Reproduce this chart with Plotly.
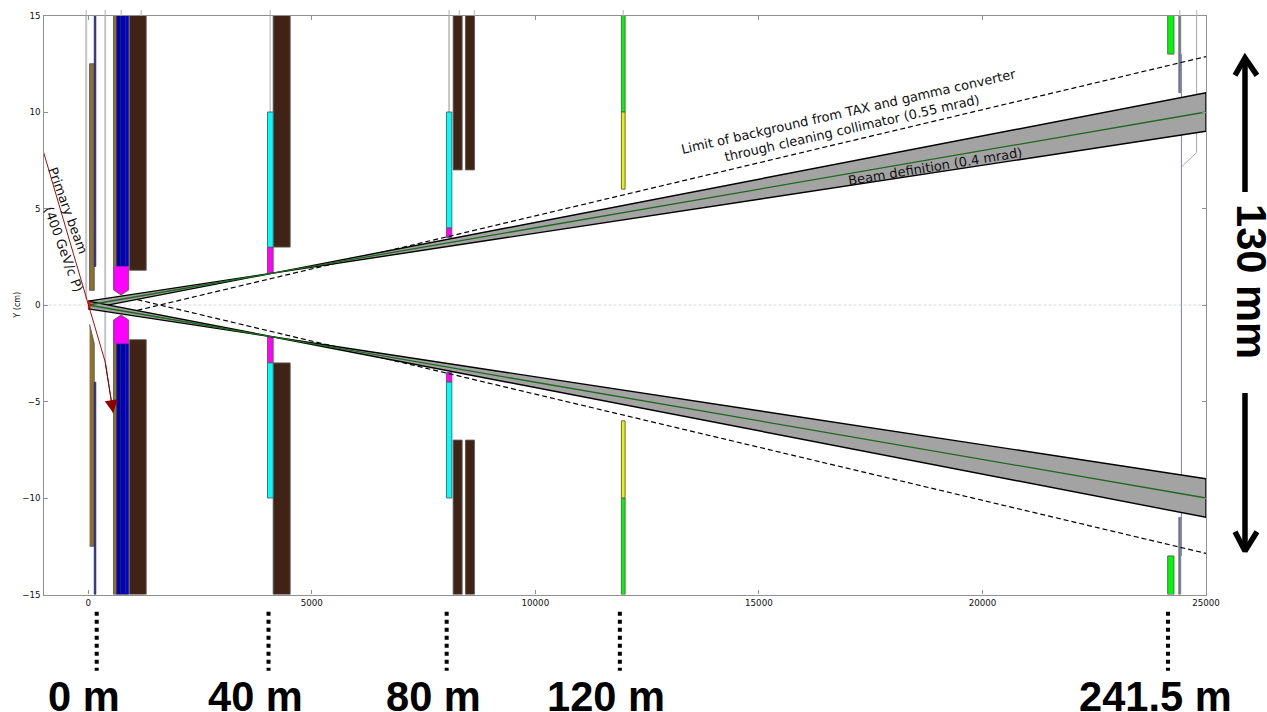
import plotly.graph_objects as go

# Beamline elements as [z0, z1, y0, y1] in axis units
thick_gray_lines = [[-45, 15, 0.3], [380, 15, -3.0], [8072, 15, 10.0]]
thin_gray_lines = [[738, 15, 0.5], [1185, 15, 1.8], [4070, 15, 3.0], [8302, 15, 7.0], [8638, 15, 7.0],
                   [11964, 15, 10.0], [24210, 15, 13.0], [24412, 15, 11.0]]
stub_z = [-45, 380, 738, 1185, 4070, 8072, 8302, 8638, 11964, 24412, 24790]
stub_y = [15, 15.28]
olive_blocks = [[30, 135, 0.76, 12.5], [565, 640, 2, 15], [565, 640, -15, -2]]
olive_lower_z = [30, 135, 135, 30]
olive_lower_y = [-1.0, -2.0, -12.5, -12.5]
blue_blocks = [[135, 170, 2, 15], [135, 170, -15, -4],
               [640, 720, 2, 15], [720, 840, 2, 15], [840, 905, 2, 15],
               [640, 720, -15, -2], [720, 840, -15, -2], [840, 905, -15, -2]]
brown_blocks = [[925, 1297, 1.8, 15], [925, 1297, -15, -1.8],
                [4137, 4517, 3, 15], [4137, 4517, -15, -3],
                [8162, 8363, 7, 15], [8437, 8638, 7, 15],
                [8162, 8363, -15, -7], [8437, 8638, -15, -7]]
magenta_blocks = [[4010, 4137, 1.64, 3], [4010, 4137, -3, -1.64],
                  [8012, 8133, 3.5, 4], [8012, 8133, -4, -3.5]]
magenta_tip_z = [565, 565, 735, 905, 905]
magenta_tip_upper = [2, 0.78, 0.52, 0.78, 2]
magenta_tip_lower = [-2, -0.78, -0.52, -0.78, -2]
cyan_blocks = [[4010, 4137, 3, 10], [4010, 4137, -10, -3],
               [8012, 8133, 4, 10], [8012, 8133, -10, -4]]
green_blocks = [[11925, 12008, 10, 15], [11925, 12008, -15, -10],
                [24143, 24283, 13, 15], [24143, 24283, -15, -13]]
yellow_blocks = [[11925, 12008, 6, 10], [11925, 12008, -10, -6]]
slate_blocks = [[24390, 24435, 11, 15], [24390, 24435, -15, -11]]
target_block = [0, 45, -0.18, 0.18]

# Beam envelope
band_z = [0, 4167, 25000, 25000, 4167, 0]
band_upper = [0.2, 1.667, 11, 9, 1.667, -0.2]
band_lower = [-0.2, -1.667, -9, -11, -1.667, 0.2]
centre_z = [0, 25000]
centre_upper = [0, 10]
centre_lower = [0, -10]
limit_z = [1100, 25000]
limit_upper = [-0.275, 12.87]
limit_lower = [0.275, -12.87]

# Primary proton beam
primary_z = [-1000, 380, 560]
primary_y = [7.93, -2.95, -5.6]

# Downstream window
window_blue_z = [24450, 24450]
window_blue_y = [13, -13]
window_gray_z = [24790, 24790, 24450]
window_gray_y = [15, 7.9, 7.15]

# Station markers below the axis
station_z = [190, 4033, 8017, 11890, 24150]
station_y = [-15.9, -18.95]
station_label_z = [-100, 3734, 7715, 11570, 23880]
station_labels = ["0 m", "40 m", "80 m", "120 m", "241.5 m"]

# Double arrow for the aperture size
span_z = 25872
span_up = [5.85, 12.8]
span_down = [-4.56, -12.75]
span_arm_z = [25649, 26140]
span_arm_up = 11.9
span_arm_down = -11.75

W, H = 1267, 712
L, R, T, B = 43.5, 1206, 15.5, 594.5
kx = 26000 / (R - L)
ky = 30 / (B - T)

edge = "#5a5a5a"
fig = go.Figure()


def poly(z, y, fill, line=edge, width=0.9):
    fig.add_trace(go.Scatter(x=z, y=y, mode="lines", fill="toself", fillcolor=fill,
                             line=dict(color=line, width=width), hoverinfo="skip"))


def rects(blocks, fill, line=edge, width=0.9):
    for z0, z1, y0, y1 in blocks:
        poly([z0, z1, z1, z0, z0], [y0, y0, y1, y1, y0], fill, line, width)


def line(z, y, color, width=1, dash="solid", over=False):
    fig.add_trace(go.Scatter(x=z, y=y, mode="lines", line=dict(color=color, width=width, dash=dash),
                             hoverinfo="skip", xaxis="x2" if over else "x", yaxis="y2" if over else "y"))


line([-1000, 25000], [0, 0], "#d8d8d8", 1, "3px,2px")
for z, y0, y1 in thick_gray_lines:
    line([z, z], [y0, y1], "#c4c4c4", 2)
for z, y0, y1 in thin_gray_lines:
    line([z, z], [y0, y1], "#c4c4c4", 1.3)
line(window_gray_z, window_gray_y, "#a8a8a8", 1)
line(window_blue_z, window_blue_y, "#7c7cd0", 1)

rects(olive_blocks, "#8c7130")
poly(olive_lower_z, olive_lower_y, "#8c7130")
rects(blue_blocks[:2], "#000090", "#3a3a80")
for block, col in zip(blue_blocks[2:], ["#00009c", "#0000b8", "#0000d0"] * 2):
    rects([block], col, "#202080")
rects(brown_blocks, "#3f2314")
poly(magenta_tip_z, magenta_tip_upper, "#ff00ff")
poly(magenta_tip_z, magenta_tip_lower, "#ff00ff")
rects(magenta_blocks, "#ff00ff")
rects(cyan_blocks, "#00ffff")
rects(green_blocks, "#00f800")
rects(yellow_blocks, "#e0f400")
rects(slate_blocks, "#707080", "#808088")

line(limit_z, limit_upper, "#000000", 1.2, "5px,3px")
line(limit_z, limit_lower, "#000000", 1.2, "5px,3px")
poly(band_z, band_upper, "#a3a3a3", "#000000", 1.4)
poly(band_z, band_lower, "#a3a3a3", "#000000", 1.4)
line(centre_z, centre_upper, "#1c6a1c", 1.3)
line(centre_z, centre_lower, "#1c6a1c", 1.3)
rects([target_block], "#ff0000", "#ff0000", 0.5)
line(primary_z, primary_y, "#a01010", 1)

# Items outside the frame go on an invisible page-sized overlay sharing the same scale
for z in stub_z:
    line([z, z], stub_y, "#c4c4c4", 1.3, over=True)
for z in station_z:
    line([z, z], station_y, "#000000", 4, "4px,4px", over=True)
line([span_z, span_z], span_up, "#000000", 5.5, over=True)
line([span_z, span_z], span_down, "#000000", 5.5, over=True)
line([span_arm_z[0], span_z, span_arm_z[1]], [span_arm_up, span_up[1], span_arm_up], "#000000", 5.5, over=True)
line([span_arm_z[0], span_z, span_arm_z[1]], [span_arm_down, span_down[1], span_arm_down], "#000000", 5.5, over=True)

dv = dict(family="DejaVu Sans", color="#111111")
notes = [
    dict(x=-447, y=4.92, text="Primary beam", textangle=70, font=dict(size=13, **dv)),
    dict(x=-559, y=2.85, text="(400 GeV/c P)", textangle=70, font=dict(size=13, **dv)),
    dict(x=17040, y=9.6, text="Limit of background from TAX and gamma converter<br>through cleaning collimator (0.55 mrad)",
         textangle=-12.8, font=dict(size=13, **dv)),
    dict(x=18940, y=7.2, text="Beam definition (0.4 mrad)", textangle=-9.3, font=dict(size=13, **dv)),
    dict(x=-1600, y=0, text="Y (cm)", textangle=-90, font=dict(size=8, **dv)),
]
for n in notes:
    fig.add_annotation(showarrow=False, xref="x2", yref="y2", **n)

# arrowhead of the primary beam
fig.add_annotation(x=primary_z[2], y=primary_y[2], ax=primary_z[1], ay=primary_y[1], axref="x", ayref="y",
                   xref="x", yref="y", text="", showarrow=True, arrowhead=2, arrowsize=2.6, arrowwidth=1,
                   arrowcolor="#8b0000")

bold = dict(family="Liberation Sans", size=41.6, color="#000000")
for z, t in zip(station_label_z, station_labels):
    fig.add_annotation(x=z, y=-20.3, text="<b>%s</b>" % t, showarrow=False, xref="x2", yref="y2", font=bold)
fig.add_annotation(x=26030, y=1.24, text="<b>130 mm</b>", textangle=90, showarrow=False, xref="x2", yref="y2", font=bold)

axis = dict(showgrid=False, zeroline=False, showline=True, linecolor="#909090", linewidth=1.3, mirror="ticks",
            ticks="inside", ticklen=4, tickwidth=1, tickcolor="#909090",
            tickfont=dict(family="DejaVu Sans", size=8.7, color="#111111"))
hidden = dict(visible=False, showgrid=False, zeroline=False, domain=[0, 1])
fig.update_layout(
    width=W, height=H, margin=dict(l=0, r=0, t=0, b=0, autoexpand=False),
    paper_bgcolor="white", plot_bgcolor="rgba(0,0,0,0)", showlegend=False,
    xaxis=dict(domain=[L / W, R / W], range=[-1000, 25000], tick0=0, dtick=5000, tickformat="d", anchor="y", **axis),
    yaxis=dict(domain=[(H - B) / H, (H - T) / H], range=[-15, 15], tick0=-15, dtick=5, anchor="x", **axis),
    xaxis2=dict(range=[-1000 - L * kx, 25000 + (W - R) * kx], anchor="y2", **hidden),
    yaxis2=dict(range=[-15 - (H - B) * ky, 15 + T * ky], anchor="x2", **hidden),
)
fig.write_html("out.html", config={"displayModeBar": False},
               post_script="document.body.style.margin='0';document.documentElement.style.overflow='hidden';")
